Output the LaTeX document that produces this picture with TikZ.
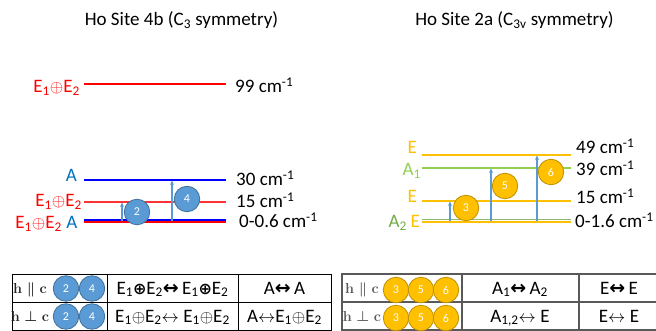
\documentclass[tikz,border=0pt]{standalone}
\usepackage{fontspec}
\usepackage{amsmath}
\setmainfont{Carlito}
\newfontfamily\symfont{DejaVu Sans}
\usetikzlibrary{arrows.meta}
\definecolor{eRed}{HTML}{FF0000}
\definecolor{aBlue}{HTML}{0070C0}
\definecolor{lBlue}{HTML}{0000FF}
\definecolor{arrBlue}{HTML}{5B9BD5}
\definecolor{cBlueEdge}{HTML}{41719C}
\definecolor{orng}{HTML}{FFC000}
\definecolor{orngEdge}{HTML}{BF9000}
\definecolor{lgreen}{HTML}{92D050}
\definecolor{dgreen}{HTML}{70AD47}
\definecolor{gline}{HTML}{8FB870}
\definecolor{tgray}{HTML}{595959}
\definecolor{hgray}{HTML}{262626}
\newcommand{\Eoplus}{E\textsubscript{1}$\oplus$E\textsubscript{2}}
\newcommand{\bop}{{\symfont\bfseries\fontsize{16}{19}\selectfont ⊕}}
\newcommand{\barr}{{\symfont\bfseries\fontsize{19}{22}\selectfont ↔}}
\newcommand{\Eboplus}{E\textsubscript{1}\bop E\textsubscript{2}}
\newcommand{\wn}[1]{#1 cm\textsuperscript{-1}}
\tikzset{
  bigtxt/.style={font=\fontsize{19}{22}\selectfont, inner sep=0pt},
  titletxt/.style={bigtxt, anchor=base},
  numtxt/.style={bigtxt, anchor=base west},
  symtxt/.style={bigtxt, anchor=base east},
  level/.style={line width=1.3pt},
  gnd/.style={line width=1.8pt},
  trans/.style={arrBlue, line width=1.3pt, -{Stealth[length=4.5pt,width=4pt]}},
  bcirc/.style={circle, fill=arrBlue, draw=cBlueEdge, line width=0.8pt, minimum size=25.5pt, inner sep=0pt, text=white, font=\fontsize{12}{14}\selectfont},
  ocirc/.style={circle, fill=orng, draw=orngEdge, line width=0.8pt, minimum size=25.5pt, inner sep=0pt, text=white, font=\fontsize{12}{14}\selectfont},
  celltxt/.style={font=\fontsize{19}{22}\selectfont, inner sep=0pt, anchor=base},
  hctxt/.style={font=\fontsize{14.4}{17}\selectfont\boldmath, inner sep=0pt, anchor=base, text=hgray},
  tabL/.style={black, line width=1pt},
  tabR/.style={tgray, line width=1.2pt},
}
\begin{document}
\begin{tikzpicture}[x=1pt,y=-1pt]
\useasboundingbox[fill=white] (0,0) rectangle (656,331);

% ---------------- left panel ----------------
\node[titletxt] (t1) at (181.5,26) {Ho Site 4b (C\textsubscript{3} symmetry)};

\coordinate (l99a) at (84,84);   \coordinate (l99b) at (226,84);
\coordinate (l30a) at (84,180);  \coordinate (l30b) at (226,180);
\coordinate (l15a) at (84,202);  \coordinate (l15b) at (226,202);
\coordinate (g1a) at (84,220.3); \coordinate (g1b) at (226,220.3);
\coordinate (g2a) at (84,222.2); \coordinate (g2b) at (226,222.2);

\draw[level, eRed] (l99a) -- (l99b);
\draw[level, lBlue] (l30a) -- (l30b);
\draw[level, eRed!80] (l15a) -- (l15b);
\draw[gnd, eRed] (g2a) -- (g2b);
\draw[gnd, lBlue] (g1a) -- (g1b);

\node[symtxt, text=eRed] (s99) at (80,92.5) {\Eoplus};
\node[symtxt, text=aBlue] (s30) at (77,182) {A};
\node[symtxt, text=eRed] (s15) at (82,206.7) {\Eoplus};
\node[symtxt, text=eRed] (s0a) at (62,229) {\Eoplus};
\node[symtxt, text=aBlue] (s0b) at (77.5,229) {A};

\node[numtxt] (n99) at (235,92.5) {\wn{99}};
\node[numtxt] (n30) at (236,186) {\wn{30}};
\node[numtxt] (n15) at (236,207.3) {\wn{15}};
\node[numtxt] (n0) at (239,227.3) {\wn{0-0.6}};

\coordinate (a2s) at (122,221); \coordinate (a2e) at (122,202.5);
\coordinate (a4s) at (172,221); \coordinate (a4e) at (172,180.5);
\draw[trans] (a2s) -- (a2e);
\draw[trans] (a4s) -- (a4e);
\node[bcirc] (c2) at (137,212) {2};
\node[bcirc] (c4) at (187,199) {4};

% ---------------- right panel ----------------
\node[titletxt] (t2) at (514.5,26) {Ho Site 2a (C\textsubscript{3v} symmetry)};

\coordinate (r49a) at (422,155);   \coordinate (r49b) at (571,155);
\coordinate (r39a) at (422,168);   \coordinate (r39b) at (571,168);
\coordinate (r15a) at (422,201);   \coordinate (r15b) at (571,201);
\coordinate (rg1a) at (422,219.4); \coordinate (rg1b) at (571,219.4);
\coordinate (rg2a) at (422,221.8); \coordinate (rg2b) at (571,221.8);

\draw[level, orng] (r49a) -- (r49b);
\draw[level, lgreen] (r39a) -- (r39b);
\draw[level, orng] (r15a) -- (r15b);
\draw[gnd, orng] (rg2a) -- (rg2b);
\draw[line width=1.5pt, gline] (rg1a) -- (rg1b);

\node[symtxt, text=orng] (q49) at (417,154) {E};
\node[symtxt, text=lgreen] (q39) at (421,175.5) {A\textsubscript{1}};
\node[symtxt, text=orng] (q15) at (417,203) {E};
\node[symtxt, text=dgreen] (q0a) at (407,228) {A\textsubscript{2}};
\node[symtxt, text=orng] (q0b) at (420,228) {E};

\node[numtxt] (m49) at (576,154) {\wn{49}};
\node[numtxt] (m39) at (576,176) {\wn{39}};
\node[numtxt] (m15) at (576,203.3) {\wn{15}};
\node[numtxt] (m0) at (575,227.3) {\wn{0-1.6}};

\coordinate (a3s) at (450,221); \coordinate (a3e) at (450,201.5);
\coordinate (a5s) at (491,221); \coordinate (a5e) at (491,168.5);
\coordinate (a6s) at (537,221); \coordinate (a6e) at (537,155.5);
\draw[trans] (a3s) -- (a3e);
\draw[trans] (a5s) -- (a5e);
\draw[trans] (a6s) -- (a6e);
\node[ocirc] (c3) at (466,208) {3};
\node[ocirc] (c5) at (505,186) {5};
\node[ocirc] (c6) at (551,172) {6};

% ---------------- left table ----------------
\draw[tabL] (12,274) rectangle (331,330);
\draw[tabL] (12,302) -- (331,302);
\draw[tabL] (107,274) -- (107,330);
\draw[tabL] (238,274) -- (238,330);

\node[hctxt] (h1) at (30,293.3) {$\mathbf{h}\parallel\mathbf{c}$};
\node[hctxt] (h2) at (30,321) {$\mathbf{h}\perp\mathbf{c}$};
\node[bcirc] (tc2a) at (66,288.5) {2};
\node[bcirc] (tc4a) at (92,288.5) {4};
\node[bcirc] (tc2b) at (66,316.5) {2};
\node[bcirc] (tc4b) at (92,316.5) {4};

\node[celltxt] (x11) at (172.5,294) {\Eboplus\barr\,\Eboplus};
\node[celltxt] (x12) at (284.5,294) {A\barr\,A};
\node[celltxt] (x21) at (172.5,322) {\Eoplus$\leftrightarrow$ \Eoplus};
\node[celltxt] (x22) at (284.5,322) {A$\leftrightarrow$\Eoplus};

% ---------------- right table ----------------
\draw[tabR] (660,274) -- (342,274) -- (342,330) -- (660,330);
\draw[tabR] (342,302) -- (660,302);
\draw[tabR] (462,274) -- (462,330);
\draw[tabR] (579,274) -- (579,330);

\node[hctxt, text=tgray] (h3) at (362,293.3) {$\mathbf{h}\parallel\mathbf{c}$};
\node[hctxt, text=tgray] (h4) at (362,321) {$\mathbf{h}\perp\mathbf{c}$};
\node[ocirc] (tc3a) at (396,290) {3};
\node[ocirc] (tc5a) at (421,290) {5};
\node[ocirc] (tc6a) at (446,290) {6};
\node[ocirc] (tc3b) at (396,318) {3};
\node[ocirc] (tc5b) at (421,318) {5};
\node[ocirc] (tc6b) at (446,318) {6};

\node[celltxt] (y11) at (520,294) {A\textsubscript{1}\barr\,A\textsubscript{2}};
\node[celltxt] (y12) at (619,294) {E\barr\,E};
\node[celltxt] (y21) at (520,322) {A\textsubscript{1,2}$\leftrightarrow$ E};
\node[celltxt] (y22) at (619,322) {E$\leftrightarrow$ E};
\end{tikzpicture}
\end{document}
